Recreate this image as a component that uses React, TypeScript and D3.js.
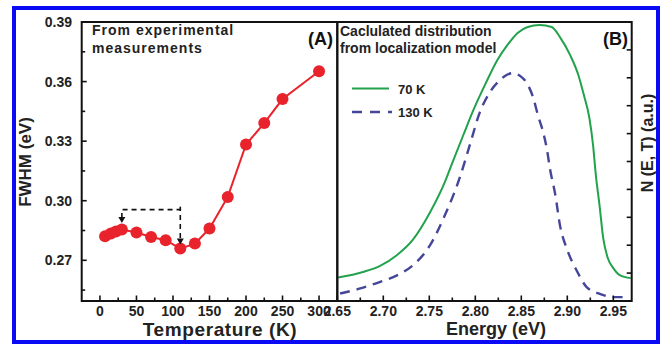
import React from 'react'
import * as d3 from 'd3'

// panel A: FWHM vs temperature
const tempK = [7, 15, 22, 30, 50, 70, 90, 110, 130, 150, 175, 200, 225, 250, 300]
const fwhmEv = [0.2821, 0.2835, 0.2845, 0.2855, 0.284, 0.2817, 0.2801, 0.2759, 0.2784, 0.286, 0.3019, 0.3283, 0.3391, 0.3512, 0.3652]
const tempTicks = [0, 50, 100, 150, 200, 250, 300]
const fwhmTicks = [0.27, 0.3, 0.33, 0.36, 0.39]

// dashed arrow annotation (from 30 K to 110 K)
const arrowT = [30, 110]
const arrowTopEv = 0.2955
const arrowTipEv = [0.2888, 0.2779]

// panel B: calculated distribution N(E, T)
const energy70 = [2.651, 2.678, 2.696, 2.715, 2.732, 2.751, 2.767, 2.775, 2.787, 2.798, 2.811, 2.824, 2.835, 2.846, 2.857, 2.87, 2.883, 2.892, 2.903, 2.912, 2.918, 2.924, 2.928, 2.931, 2.935, 2.939, 2.944, 2.95, 2.957, 2.969]
const n70 = [0.084, 0.104, 0.125, 0.165, 0.219, 0.319, 0.427, 0.495, 0.595, 0.685, 0.778, 0.864, 0.918, 0.961, 0.982, 0.989, 0.982, 0.946, 0.882, 0.81, 0.738, 0.656, 0.559, 0.452, 0.344, 0.226, 0.154, 0.118, 0.093, 0.082]
const energy130 = [2.653, 2.675, 2.696, 2.718, 2.734, 2.751, 2.767, 2.783, 2.794, 2.805, 2.816, 2.827, 2.834, 2.841, 2.849, 2.856, 2.863, 2.868, 2.874, 2.878, 2.881, 2.887, 2.892, 2.9, 2.911, 2.921, 2.936, 2.95, 2.966]
const n130 = [0.027, 0.045, 0.068, 0.097, 0.133, 0.201, 0.308, 0.441, 0.559, 0.677, 0.749, 0.792, 0.81, 0.817, 0.806, 0.781, 0.728, 0.667, 0.602, 0.541, 0.477, 0.38, 0.272, 0.183, 0.104, 0.05, 0.025, 0.014, 0.014]
const energyTicks = [2.65, 2.7, 2.75, 2.8, 2.85, 2.9, 2.95]
const nTicks = [0.1, 0.2, 0.3, 0.4, 0.5, 0.6, 0.7, 0.8, 0.9]

const font = "'Liberation Sans', Arial, sans-serif"
const red = '#e8232b'
const green = '#22a24c'
const navy = '#45459a'

export default function App() {
  const a = { left: 81.7, right: 337.3, top: 22, bottom: 301 }
  const b = { left: 337.3, right: 631.7, top: 22, bottom: 301 }

  const xA = d3.scaleLinear().domain([-25, 325]).range([a.left, a.right])
  const yA = d3.scaleLinear().domain([0.2495, 0.39]).range([a.bottom, a.top])
  const xB = d3.scaleLinear().domain([2.65, 2.97]).range([b.left, b.right])
  const yB = d3.scaleLinear().domain([0, 1]).range([b.bottom, b.top])

  const lineA = d3.line<number>().x((d, i) => xA(tempK[i])).y(d => yA(d))
  const line70 = d3.line<number>().x((d, i) => xB(energy70[i])).y(d => yB(d)).curve(d3.curveMonotoneX)
  const line130 = d3.line<number>().x((d, i) => xB(energy130[i])).y(d => yB(d)).curve(d3.curveMonotoneX)

  const minorT = tempTicks.map(t => t + 25).filter(t => t < 325)
  const minorF = fwhmTicks.map(f => f - 0.015)
  const minorE = energyTicks.map(e => e + 0.025).filter(e => e < 2.97)

  const arrowY = yA(arrowTopEv)

  return (
    <div style={{ position: 'absolute', left: 0, top: 0 }}>
      <svg width={662} height={344} style={{ display: 'block', background: '#fff' }} fontFamily={font} fontWeight="bold">
        <rect x={14} y={8} width={644} height={334} fill="none" stroke="#0a0af5" strokeWidth={4} />

        {/* panel A */}
        <path d={lineA(fwhmEv) || ''} fill="none" stroke={red} strokeWidth={2} />
        {fwhmEv.map((v, i) => (
          <circle key={i} cx={xA(tempK[i])} cy={yA(v)} r={6} fill={red} />
        ))}

        <g stroke="#111" strokeWidth={1.6} strokeDasharray="5 4" fill="none">
          <path d={`M${xA(arrowT[0])},${yA(arrowTipEv[0]) - 5}V${arrowY}H${xA(arrowT[1])}V${yA(arrowTipEv[1]) - 5}`} />
        </g>
        <path d={`M${xA(arrowT[1])},${arrowY - 3}V${arrowY}`} stroke="#111" strokeWidth={1.6} />
        {arrowT.map((t, i) => {
          const x = xA(t), y = yA(arrowTipEv[i])
          return <path key={i} d={`M${x - 3.5},${y - 6}L${x + 3.5},${y - 6}L${x},${y}Z`} fill="#111" />
        })}

        {fwhmTicks.map(f => (
          <g key={f}>
            <line x1={a.left} x2={a.left + 5} y1={yA(f)} y2={yA(f)} stroke="#111" strokeWidth={1.6} />
            <text x={72} y={yA(f) + 5} textAnchor="end" fontSize={14} fill="#222">{f.toFixed(2)}</text>
          </g>
        ))}
        {minorF.map(f => (
          <line key={f} x1={a.left} x2={a.left + 3.5} y1={yA(f)} y2={yA(f)} stroke="#111" strokeWidth={1.6} />
        ))}
        {tempTicks.map(t => (
          <g key={t}>
            <line x1={xA(t)} x2={xA(t)} y1={a.bottom} y2={a.bottom - 5.5} stroke="#111" strokeWidth={1.6} />
            <text x={xA(t)} y={316} textAnchor="middle" fontSize={14} fill="#222">{t}</text>
          </g>
        ))}
        {minorT.map(t => (
          <line key={t} x1={xA(t)} x2={xA(t)} y1={a.bottom} y2={a.bottom - 3.5} stroke="#111" strokeWidth={1.6} />
        ))}

        <text x={92} y={35} fontSize={14} letterSpacing={1} fill="#222">From experimental</text>
        <text x={92} y={53} fontSize={14} letterSpacing={1} fill="#222">measurements</text>
        <text x={333} y={45} textAnchor="end" fontSize={18} fill="#111">(A)</text>
        <text x={220} y={336} textAnchor="middle" fontSize={19} letterSpacing={0.6} fill="#222">Temperature (K)</text>
        <text transform="translate(31,162) rotate(-90)" textAnchor="middle" fontSize={17} fill="#222">FWHM (eV)</text>

        {/* panel B */}
        <path d={line70(n70) || ''} fill="none" stroke={green} strokeWidth={2} />
        <path d={line130(n130) || ''} fill="none" stroke={navy} strokeWidth={2.4} strokeDasharray="10 7" />

        {energyTicks.map(e => (
          <g key={e}>
            <line x1={xB(e)} x2={xB(e)} y1={b.bottom} y2={b.bottom - 5.5} stroke="#111" strokeWidth={1.6} />
            <text x={xB(e)} y={316} textAnchor="middle" fontSize={14} fill="#222">{e.toFixed(2)}</text>
          </g>
        ))}
        {minorE.map(e => (
          <line key={e} x1={xB(e)} x2={xB(e)} y1={b.bottom} y2={b.bottom - 3.5} stroke="#111" strokeWidth={1.6} />
        ))}
        {nTicks.map(n => (
          <line key={n} x1={b.right} x2={b.right - 5} y1={yB(n)} y2={yB(n)} stroke="#111" strokeWidth={1.6} />
        ))}

        <text x={340} y={36} fontSize={14} fill="#222">Caclulated distribution</text>
        <text x={340} y={53} fontSize={14} fill="#222">from localization model</text>
        <text x={628} y={45} textAnchor="end" fontSize={18} fill="#111">(B)</text>

        <line x1={352} x2={389} y1={88.5} y2={88.5} stroke={green} strokeWidth={2} />
        <text x={398} y={93.5} fontSize={13} fill="#222">70 K</text>
        <line x1={352} x2={392} y1={112} y2={112} stroke={navy} strokeWidth={2.4} strokeDasharray="10 8" />
        <text x={398} y={117} fontSize={13} fill="#222">130 K</text>

        <text x={496} y={335} textAnchor="middle" fontSize={18} fill="#222">Energy (eV)</text>
        <text transform="translate(652.5,143) rotate(-90)" textAnchor="middle" fontSize={16} fill="#222">N (E, T) (a.u.)</text>

        {/* frames */}
        <rect x={a.left} y={a.top} width={a.right - a.left} height={a.bottom - a.top} fill="none" stroke="#111" strokeWidth={2} />
        <rect x={b.left} y={b.top} width={b.right - b.left} height={b.bottom - b.top} fill="none" stroke="#111" strokeWidth={2} />
      </svg>
    </div>
  )
}
